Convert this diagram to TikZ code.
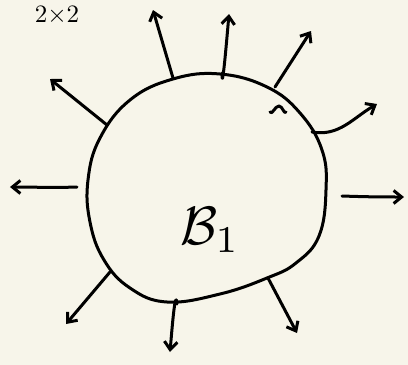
\documentclass[tikz,border=0pt]{standalone}
\usetikzlibrary{arrows.meta}
\definecolor{PaperBg}{RGB}{247,245,234}

\begin{document}
\begin{tikzpicture}[x=1pt,y=-1pt,
        pen/.style={line width=3pt,line cap=round,line join=round},
        ray/.style={pen,-{Straight Barb[length=8pt,width=13pt,line width=3pt]}}
      ]
        \fill[PaperBg] (0,0) rectangle (408,365);
        \clip (0,0) rectangle (408,365);
        % the ball
        \draw[pen] plot[smooth cycle,tension=0.7] coordinates {
          (173,79) (220,74) (267,87) (300,113) (322,150) (326,190)
          (319,236) (296,263) (267,278) (220,294)
          (167,302) (130,288) (104,260) (90,222) (88,180)
          (100,138) (130,100)};
        \node[scale=5.4] (ball) at (210,230) {$\mathcal{B}_1$};
        \node[scale=2.5,anchor=north,inner sep=1pt] (size) at (57,3) {$2{\times}2$};
        % start points on the rim
        \coordinate (s1) at (107,125);
        \coordinate (s2) at (173,78);
        \coordinate (s3) at (222,73);
        \coordinate (s4) at (275,87);
        \coordinate (s5) at (312,132);
        \coordinate (s6) at (342,196);
        \coordinate (s7) at (77,187);
        \coordinate (s8) at (110,272);
        \coordinate (s9) at (177,304);
        \coordinate (s10) at (268,278);
        % tips
        \coordinate (t1) at (50,79);
        \coordinate (t2) at (153,10);
        \coordinate (t3) at (229,14);
        \coordinate (t4) at (311,31);
        \coordinate (t5) at (377,104);
        \coordinate (t6) at (404,197);
        \coordinate (t7) at (10,187);
        \coordinate (t8) at (66,324);
        \coordinate (t9) at (170,352);
        \coordinate (t10) at (297,333);
        \draw[ray] (s1) -- (t1);
        \draw[ray] (s2) -- (t2);
        \draw[ray] (s3) to[out=-90,in=-95] (t3);
        \draw[ray] (s4) -- (t4);
        \draw[ray] (s5) to[out=-10,in=-150] (t5);
        \draw[ray] (s6) to[out=-2,in=180] (t6);
        \draw[ray] (s7) to[out=182,in=0] (t7);
        \draw[ray] (s8) -- (t8);
        \draw[ray] (s9) to[out=95,in=85] (t9);
        \draw[ray] (s10) -- (t10);
        % stray stroke near the rim
        \draw[pen] (270,112) to[out=-60,in=180] (279,106) to[out=0,in=-120] (286,112);
      \end{tikzpicture}
\end{document}
